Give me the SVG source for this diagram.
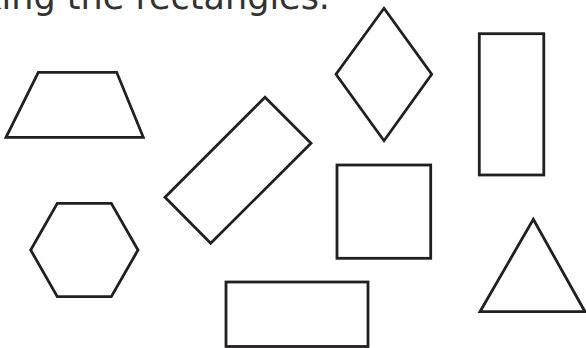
<svg xmlns="http://www.w3.org/2000/svg" width="586" height="348" viewBox="0 0 586 348">
<style>
.s{fill:none;stroke:#231f20;stroke-width:2.8;stroke-linejoin:miter}
.t{font-family:"DejaVu Sans",Verdana,sans-serif;font-size:35px;fill:#333}
</style>
<rect width="586" height="348" fill="#fff"/>
<text class="t" x="330" y="9" text-anchor="end">king the rectangles.</text>
<g id="trapezoid"><polygon class="s" points="38.3,72.3 116.7,72.3 143.3,137.3 6,137.3"/></g>
<g id="rotated-rectangle"><polygon class="s" points="265,97.3 311,143.3 210.7,243.3 165,197.3"/></g>
<g id="diamond"><polygon class="s" points="384,8.3 431.7,74.3 384,140.7 336,74.3"/></g>
<g id="tall-rectangle"><rect class="s" x="479.3" y="33.7" width="64.5" height="141.3"/></g>
<g id="square"><rect class="s" x="337" y="165" width="93.7" height="93.3"/></g>
<g id="wide-rectangle"><rect class="s" x="226" y="282" width="142" height="64.5"/></g>
<g id="triangle"><polygon class="s" points="533.3,219.3 585,311.7 480,311.7"/></g>
<g id="hexagon"><polygon class="s" points="57.3,203.3 111.3,203.3 138,250 111.3,296.7 57.3,296.7 30.7,250"/></g>
</svg>
